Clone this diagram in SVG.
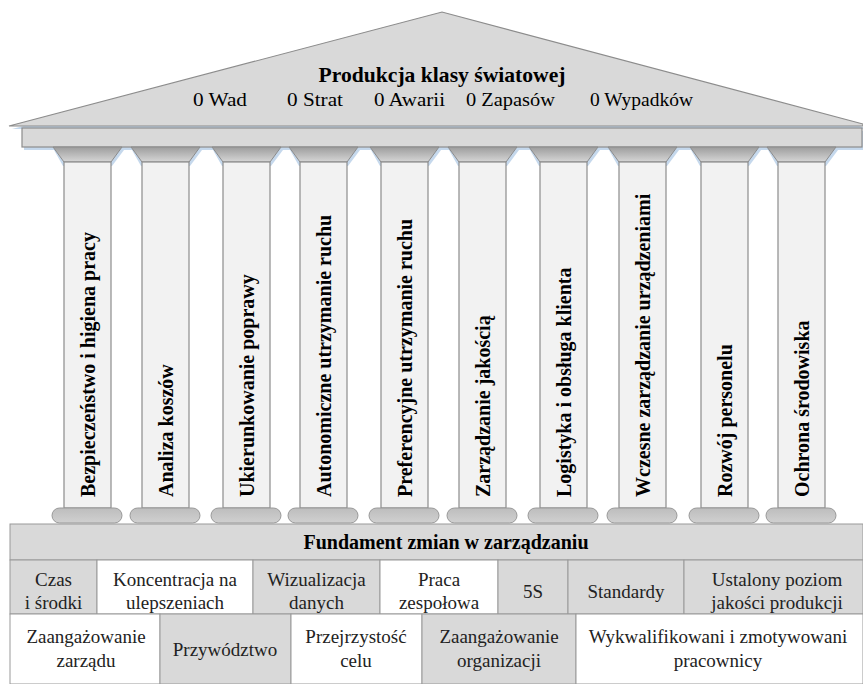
<svg xmlns="http://www.w3.org/2000/svg" width="863" height="684" viewBox="0 0 863 684">
<style>
  text { font-family: 'Liberation Serif', 'Times New Roman', serif; }
  .roof { fill: #d9d9d9; stroke: #8c8c8c; stroke-width: 1.2; }
  .ent { fill: #d9d9d9; stroke: #8c8c8c; stroke-width: 1.2; }
  .cap { fill: url(#capGrad); stroke: #8c8c8c; stroke-width: 1; }
  .shaft { fill: #f2f2f2; stroke: #8c8c8c; stroke-width: 1.2; }
  .base { fill: url(#baseGrad); stroke: #999; stroke-width: 1; }
  .pt { font-size: 20px; font-weight: bold; }
  .found { fill: #d9d9d9; stroke: #999; stroke-width: 1; }
  .g { fill: #d9d9d9; stroke: #999; stroke-width: 1; }
  .w { fill: #ffffff; stroke: #999; stroke-width: 1; }
  .ct { font-size: 19px; text-anchor: middle; fill: #222; }
  .shd { fill: #c5d8ec; stroke: none; }
</style>
<defs>
  <linearGradient id="capGrad" x1="0" y1="0" x2="0" y2="1">
    <stop offset="0" stop-color="#9d9d9d"/>
    <stop offset="1" stop-color="#d6d6d6"/>
  </linearGradient>
  <linearGradient id="baseGrad" x1="0" y1="0" x2="0" y2="1">
    <stop offset="0" stop-color="#bdbdbd"/>
    <stop offset="1" stop-color="#d0d0d0"/>
  </linearGradient>
  <polygon id="capShadow" class="shd" points="-10,150 60,150 48,166 -1,166"/>
</defs>

<g id="roof">
  <polygon class="shd" points="12,129 442,16 863,127 863,129"/>
  <polygon class="roof" points="9,126 442,12 863,124 863,126"/>
  <text x="442" y="82" text-anchor="middle" font-size="21" font-weight="bold" textLength="247" lengthAdjust="spacingAndGlyphs">Produkcja klasy światowej</text>
  <text x="193" y="106" font-size="18.5" textLength="54" lengthAdjust="spacingAndGlyphs">0 Wad</text>
  <text x="287" y="106" font-size="18.5" textLength="56" lengthAdjust="spacingAndGlyphs">0 Strat</text>
  <text x="374" y="106" font-size="18.5" textLength="71" lengthAdjust="spacingAndGlyphs">0 Awarii</text>
  <text x="466" y="106" font-size="18.5" textLength="89" lengthAdjust="spacingAndGlyphs">0 Zapasów</text>
  <text x="590" y="106" font-size="18.5" textLength="103" lengthAdjust="spacingAndGlyphs">0 Wypadków</text>
</g>

<g id="entablature">
  <rect class="shd" x="24" y="131" width="839" height="19"/>
  <rect class="ent" x="22" y="128" width="840" height="19"/>
</g>

<g id="col1" transform="translate(64,0)">
  <use href="#capShadow"/>
  <polygon class="cap" points="-11,147 58,147 47,162 0,162"/>
  <rect class="shaft" x="0" y="162" width="47" height="346"/>
  <rect class="base" x="-12" y="508" width="70" height="15" rx="7.5"/>
  <text class="pt" transform="translate(30.5,497) rotate(-90)">Bezpieczeństwo i higiena pracy</text>
</g>
<g id="col2" transform="translate(142,0)">
  <use href="#capShadow"/>
  <polygon class="cap" points="-11,147 58,147 47,162 0,162"/>
  <rect class="shaft" x="0" y="162" width="47" height="346"/>
  <rect class="base" x="-12" y="508" width="70" height="15" rx="7.5"/>
  <text class="pt" transform="translate(30.5,497) rotate(-90)">Analiza koszów</text>
</g>
<g id="col3" transform="translate(223,0)">
  <use href="#capShadow"/>
  <polygon class="cap" points="-11,147 58,147 47,162 0,162"/>
  <rect class="shaft" x="0" y="162" width="47" height="346"/>
  <rect class="base" x="-12" y="508" width="70" height="15" rx="7.5"/>
  <text class="pt" transform="translate(30.5,497) rotate(-90)">Ukierunkowanie poprawy</text>
</g>
<g id="col4" transform="translate(300,0)">
  <use href="#capShadow"/>
  <polygon class="cap" points="-11,147 58,147 47,162 0,162"/>
  <rect class="shaft" x="0" y="162" width="47" height="346"/>
  <rect class="base" x="-12" y="508" width="70" height="15" rx="7.5"/>
  <text class="pt" transform="translate(30.5,497) rotate(-90)">Autonomiczne utrzymanie ruchu</text>
</g>
<g id="col5" transform="translate(381,0)">
  <use href="#capShadow"/>
  <polygon class="cap" points="-11,147 58,147 47,162 0,162"/>
  <rect class="shaft" x="0" y="162" width="47" height="346"/>
  <rect class="base" x="-12" y="508" width="70" height="15" rx="7.5"/>
  <text class="pt" transform="translate(30.5,497) rotate(-90)">Preferencyjne utrzymanie ruchu</text>
</g>
<g id="col6" transform="translate(459,0)">
  <use href="#capShadow"/>
  <polygon class="cap" points="-11,147 58,147 47,162 0,162"/>
  <rect class="shaft" x="0" y="162" width="47" height="346"/>
  <rect class="base" x="-12" y="508" width="70" height="15" rx="7.5"/>
  <text class="pt" transform="translate(30.5,497) rotate(-90)">Zarządzanie jakością</text>
</g>
<g id="col7" transform="translate(540,0)">
  <use href="#capShadow"/>
  <polygon class="cap" points="-11,147 58,147 47,162 0,162"/>
  <rect class="shaft" x="0" y="162" width="47" height="346"/>
  <rect class="base" x="-12" y="508" width="70" height="15" rx="7.5"/>
  <text class="pt" transform="translate(30.5,497) rotate(-90)">Logistyka i obsługa klienta</text>
</g>
<g id="col8" transform="translate(619,0)">
  <use href="#capShadow"/>
  <polygon class="cap" points="-11,147 58,147 47,162 0,162"/>
  <rect class="shaft" x="0" y="162" width="47" height="346"/>
  <rect class="base" x="-12" y="508" width="70" height="15" rx="7.5"/>
  <text class="pt" transform="translate(30.5,497) rotate(-90)">Wczesne zarządzanie urządzeniami</text>
</g>
<g id="col9" transform="translate(701,0)">
  <use href="#capShadow"/>
  <polygon class="cap" points="-11,147 58,147 47,162 0,162"/>
  <rect class="shaft" x="0" y="162" width="47" height="346"/>
  <rect class="base" x="-12" y="508" width="70" height="15" rx="7.5"/>
  <text class="pt" transform="translate(30.5,497) rotate(-90)">Rozwój personelu</text>
</g>
<g id="col10" transform="translate(778,0)">
  <use href="#capShadow"/>
  <polygon class="cap" points="-11,147 58,147 47,162 0,162"/>
  <rect class="shaft" x="0" y="162" width="47" height="346"/>
  <rect class="base" x="-12" y="508" width="70" height="15" rx="7.5"/>
  <text class="pt" transform="translate(30.5,497) rotate(-90)">Ochrona środowiska</text>
</g>

<g id="foundation">
  <rect class="found" x="10" y="524" width="853" height="36"/>
  <text x="446" y="549" text-anchor="middle" font-size="20" font-weight="bold">Fundament zmian w zarządzaniu</text>
</g>

<g id="row2">
  <g id="czas"><rect class="g" x="10" y="560" width="87" height="54"/><text class="ct" x="53.5" y="586">Czas</text><text class="ct" x="53.5" y="609">i środki</text></g>
  <g id="koncentracja"><rect class="w" x="97" y="560" width="156" height="54"/><text class="ct" x="175" y="586">Koncentracja na</text><text class="ct" x="175" y="609">ulepszeniach</text></g>
  <g id="wizualizacja"><rect class="g" x="253" y="560" width="127" height="54"/><text class="ct" x="316.5" y="586">Wizualizacja</text><text class="ct" x="316.5" y="609">danych</text></g>
  <g id="praca"><rect class="w" x="380" y="560" width="118" height="54"/><text class="ct" x="439" y="586">Praca</text><text class="ct" x="439" y="609">zespołowa</text></g>
  <g id="s5"><rect class="g" x="498" y="560" width="70" height="54"/><text class="ct" x="533" y="598">5S</text></g>
  <g id="standardy"><rect class="g" x="568" y="560" width="116" height="54"/><text class="ct" x="626" y="598">Standardy</text></g>
  <g id="ustalony"><rect class="g" x="684" y="560" width="179" height="54"/><text class="ct" x="777" y="586">Ustalony poziom</text><text class="ct" x="777" y="609">jakości produkcji</text></g>
</g>

<g id="row3">
  <g id="zarzadu"><rect class="w" x="10" y="614" width="150" height="70"/><text class="ct" x="86" y="643">Zaangażowanie</text><text class="ct" x="86" y="667">zarządu</text></g>
  <g id="przywodztwo"><rect class="g" x="160" y="614" width="131" height="70"/><text class="ct" x="225" y="656">Przywództwo</text></g>
  <g id="przejrzystosc"><rect class="w" x="291" y="614" width="131" height="70"/><text class="ct" x="356" y="643">Przejrzystość</text><text class="ct" x="356" y="667">celu</text></g>
  <g id="organizacji"><rect class="g" x="422" y="614" width="154" height="70"/><text class="ct" x="499" y="643">Zaangażowanie</text><text class="ct" x="499" y="667">organizacji</text></g>
  <g id="wykwalifikowani"><rect class="w" x="576" y="614" width="287" height="70"/><text class="ct" x="718" y="643">Wykwalifikowani i zmotywowani</text><text class="ct" x="718" y="667">pracownicy</text></g>
</g>
</svg>
